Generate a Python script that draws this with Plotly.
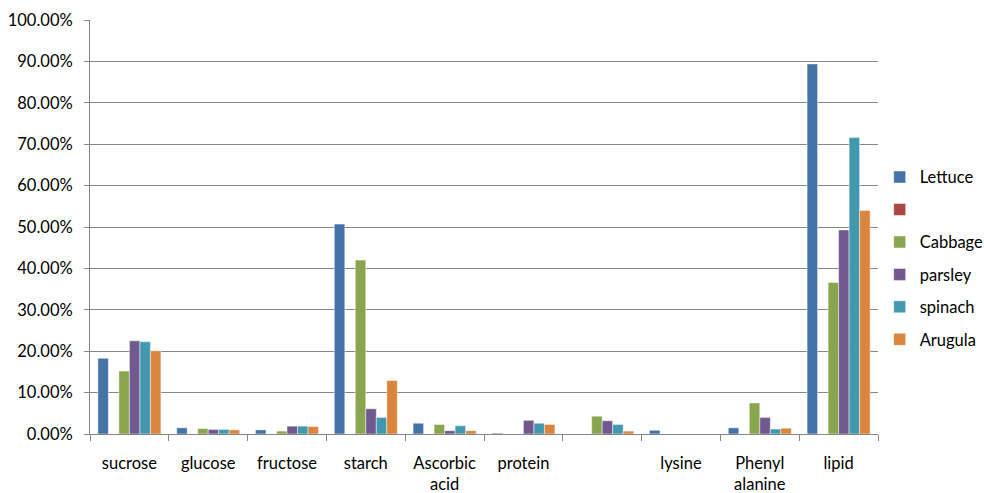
import plotly.graph_objects as go

categories = ["sucrose", "glucose", "fructose", "starch", "Ascorbic<br>acid",
              "protein", "", "lysine", "Phenyl<br>alanine", "lipid"]

series_names = ["Lettuce", " ", "Cabbage", "parsley", "spinach", "Arugula"]
lettuce = [0.183, 0.015, 0.010, 0.507, 0.026, 0.002, 0.000, 0.009, 0.015, 0.894]
blank_series = [0, 0, 0, 0, 0, 0, 0, 0, 0, 0]
cabbage = [0.152, 0.013, 0.007, 0.420, 0.023, 0.000, 0.043, 0.000, 0.075, 0.366]
parsley = [0.225, 0.011, 0.019, 0.061, 0.008, 0.033, 0.032, 0.000, 0.040, 0.493]
spinach = [0.223, 0.011, 0.019, 0.040, 0.020, 0.026, 0.023, 0.000, 0.012, 0.716]
arugula = [0.201, 0.010, 0.018, 0.129, 0.008, 0.023, 0.007, 0.000, 0.014, 0.540]

colors = ["#4572A7", "#AA4643", "#89A54E", "#71588F", "#4198AF", "#DB843D"]

y_ticks = [0, 0.1, 0.2, 0.3, 0.4, 0.5, 0.6, 0.7, 0.8, 0.9, 1.0]

values = [lettuce, blank_series, cabbage, parsley, spinach, arugula]
xpos = list(range(len(categories)))

FONT = "Lato"
FS = 16.5
fig = go.Figure()
for i, (name, vals) in enumerate(zip(series_names, values)):
    fig.add_trace(go.Bar(
        x=xpos, y=vals, name=name, legendgroup=f"g{i}",
        marker=dict(color=colors[i], line=dict(color="rgba(255,255,255,0.6)", width=0.8)),
    ))

fig.update_layout(
    width=984, height=493,
    margin=dict(l=90, r=106, t=20, b=59, autoexpand=False),
    paper_bgcolor="white", plot_bgcolor="white",
    barmode="group", bargap=0.2, bargroupgap=0,
    font=dict(family=FONT, size=FS, color="#000000"),
    showlegend=True,
    legend=dict(xref="container", yref="container",
                x=0.894, y=0.476, xanchor="left", yanchor="middle",
                font=dict(family=FONT, size=FS, color="#000000"),
                tracegroupgap=8, itemwidth=30),
    xaxis=dict(
        range=[-0.5, len(categories) - 0.5], automargin=False,
        tickmode="array", tickvals=xpos, ticktext=categories,
        ticks="", showgrid=False, zeroline=False,
        showline=True, linecolor="#868686", linewidth=1,
        ticklabelstandoff=14,
        minor=dict(tickmode="array",
                   tickvals=[p - 0.5 for p in xpos] + [len(categories) - 0.5],
                   ticks="outside", ticklen=6, tickcolor="#868686", showgrid=False),
    ),
    yaxis=dict(
        range=[0, 1], tickmode="array", tickvals=y_ticks, tickformat=".2%",
        automargin=False,
        showgrid=True, gridcolor="#868686", gridwidth=1,
        zeroline=False, showline=True, linecolor="#868686", linewidth=1,
        ticks="outside", ticklen=5, tickcolor="#868686",
        ticklabelstandoff=8,
    ),
)

fig.write_html("out.html")
